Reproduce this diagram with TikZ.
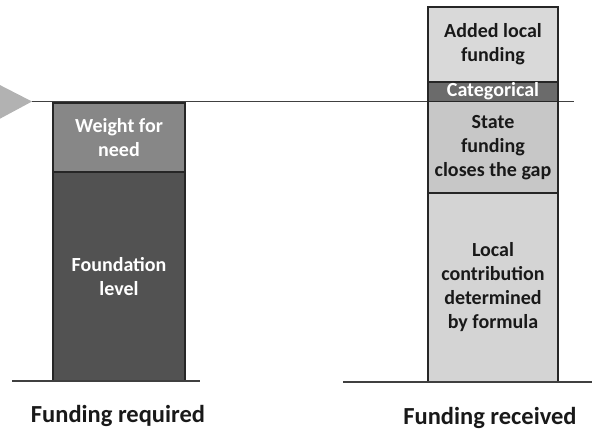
\documentclass[tikz,border=0pt]{standalone}
\usepackage{fontspec}
\setmainfont{Carlito}
\begin{document}
\begin{tikzpicture}[x=1pt,y=1pt,
  seg/.style={draw=black!85, line width=1.3pt, inner sep=0pt, align=center,
    font=\bfseries\fontsize{20}{24}\selectfont},
  lbl/.style={font=\bfseries\fontsize{24.5}{28}\selectfont, text=black!90}]
\useasboundingbox (0,0) rectangle (592,434);
\begin{scope}
\clip (0,0) rectangle (592,434);
\fill[gray!60] (-8,353) -- (-8,311) -- (32,332.5) -- cycle;
\end{scope}
\coordinate (lineL) at (32,332.5);
\coordinate (lineR) at (574,332.5);
\draw[black!75, line width=1.3pt] (lineL) -- (lineR);
% left bar
\node[seg, fill=black!47, text=white, minimum width=132pt, minimum height=69pt] (weight) at (119,296.5) {Weight for\\need};
\node[seg, fill=black!68, text=white, minimum width=132pt, minimum height=209pt] (found) at (119,157.5) {Foundation\\level};
% right bar
\node[seg, fill=black!15, text=black!90, minimum width=130pt, minimum height=75pt] (added) at (493,389.5) {Added local\\funding};
\node[seg, fill=black!58, text=white, minimum width=130pt, minimum height=19.5pt, text height=12.5pt, text depth=3pt, font=\bfseries\fontsize{20}{22}\selectfont] (cat) at (493,342.25) {Categorical};
\node[seg, fill=black!22, text=black!90, minimum width=130pt, minimum height=91.5pt] (state) at (493,286.75) {State\\funding\\closes the gap};
\node[seg, fill=black!17, text=black!90, minimum width=130pt, minimum height=188.5pt] (local) at (493,146.75) {Local\\contribution\\determined\\by formula};
% base lines
\coordinate (bl1) at (12,53);
\coordinate (br1) at (200,53);
\coordinate (bl2) at (343,52);
\coordinate (br2) at (592,52);
\draw[black!75, line width=1.2pt] (bl1) -- (br1);
\draw[black!75, line width=1.2pt] (bl2) -- (br2);
\node[lbl] (req) at (118,18) {Funding required};
\node[lbl] (rec) at (490,16) {Funding received};
\end{tikzpicture}
\end{document}
